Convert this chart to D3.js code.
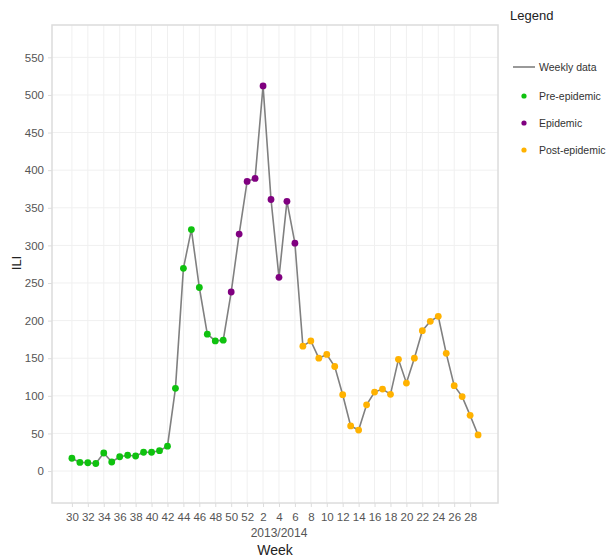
<!DOCTYPE html>
<html>
<head>
<meta charset="utf-8">
<script src="https://cdn.jsdelivr.net/npm/d3@7"></script>
<style>
  body { margin: 0; background: #fff; }
  text { font-family: "Liberation Sans", "Noto Sans", sans-serif; }
</style>
</head>
<body>
<div id="container"></div>
<script>
// chart window size
let cwW = 608;
let cwH = 558;

// weeks 2013/30 .. 2014/29
const weeks = [30,31,32,33,34,35,36,37,38,39,40,41,42,43,44,45,46,47,48,49,50,51,52,
               1,2,3,4,5,6,7,8,9,10,11,12,13,14,15,16,17,18,19,20,21,22,23,24,25,26,27,28,29];
const ili = [17,11.5,11,10,24,12,19,21,20,25,25,27,33,110,269.5,321,244,182,173,174,
             238,315,385,389,512,361,257.5,358.6,303,
             166,173,150,155,139,101.5,60,54.5,88,105,109,102,148.5,117,150,186.6,199,205.7,156.5,113.5,99,74,48];
// 0 = pre-epidemic, 1 = epidemic, 2 = post-epidemic
const phase = [0,0,0,0,0,0,0,0,0,0,0,0,0,0,0,0,0,0,0,0,
               1,1,1,1,1,1,1,1,1,
               2,2,2,2,2,2,2,2,2,2,2,2,2,2,2,2,2,2,2,2,2,2,2];
const phaseNames = ["Pre-epidemic","Epidemic","Post-epidemic"];
const phaseColors = ["#0fc20f","#800080","#ffb200"];
const yTicks = [0,50,100,150,200,250,300,350,400,450,500,550];

let data = weeks.map((w,i) => ({i: i, week: w, v: ili[i], p: phase[i]}));

let svg = d3.select("#container").append("svg")
            .attr("width", cwW)
            .attr("height", cwH);

const panel = {left: 52, top: 25, right: 498, bottom: 503};

let x = d3.scaleLinear().domain([-2.5, 53.5]).range([panel.left, panel.right]);
let y = d3.scaleLinear().domain([-42.5, 593]).range([panel.bottom, panel.top]);

// tick indices every 2 weeks (30..52, 2..28)
let xTickIdx = data.filter(d => d.week % 2 === 0 && d.i <= 50).map(d => d.i);

/**************************
* grid
**************************/
let grid = svg.append("g");
grid.selectAll("line.v")
    .data(xTickIdx)
    .enter().append("line")
    .attr("x1", d => x(d)).attr("x2", d => x(d))
    .attr("y1", panel.top).attr("y2", panel.bottom)
    .attr("stroke", "#f0f0f0");
grid.selectAll("line.h")
    .data(yTicks)
    .enter().append("line")
    .attr("x1", panel.left).attr("x2", panel.right)
    .attr("y1", d => y(d)).attr("y2", d => y(d))
    .attr("stroke", "#f0f0f0");

svg.append("rect")
   .attr("x", panel.left).attr("y", panel.top)
   .attr("width", panel.right - panel.left)
   .attr("height", panel.bottom - panel.top)
   .attr("fill", "none")
   .attr("stroke", "#dcdcdc")
   .attr("stroke-width", 1.5);

/**************************
* axes
**************************/
let yAxis = svg.append("g")
   .attr("transform", "translate(" + panel.left + ",0)")
   .call(d3.axisLeft(y).tickValues(yTicks).tickSize(4).tickPadding(4));
let xAxis = svg.append("g")
   .attr("transform", "translate(0," + panel.bottom + ")")
   .call(d3.axisBottom(x).tickValues(xTickIdx).tickFormat(d => weeks[d]).tickSize(4).tickPadding(6));
[xAxis, yAxis].forEach(a => {
  a.select(".domain").remove();
  a.selectAll(".tick line").attr("stroke", "#dcdcdc");
  a.selectAll(".tick text")
   .attr("fill", "#555")
   .style("font-size", "11.5px")
   .style("font-family", "Liberation Sans");
});

svg.append("text")
   .attr("x", 279).attr("y", 537)
   .attr("text-anchor", "middle")
   .attr("fill", "#555")
   .style("font-size", "12px")
   .text("2013/2014");
svg.append("text")
   .attr("x", 275).attr("y", 555)
   .attr("text-anchor", "middle")
   .attr("fill", "#222")
   .style("font-size", "14px")
   .text("Week");
svg.append("text")
   .attr("transform", "translate(21,263) rotate(-90)")
   .attr("text-anchor", "middle")
   .attr("fill", "#222")
   .style("font-size", "13px")
   .text("ILI");

/**************************
* line + points
**************************/
svg.append("path")
   .datum(data)
   .attr("d", d3.line().x(d => x(d.i)).y(d => y(d.v)))
   .attr("fill", "none")
   .attr("stroke", "#808080")
   .attr("stroke-width", 1.6);

svg.append("g").selectAll("circle")
   .data(data)
   .enter().append("circle")
   .attr("cx", d => x(d.i))
   .attr("cy", d => y(d.v))
   .attr("r", 3.4)
   .attr("fill", d => phaseColors[d.p]);

/**************************
* legend
**************************/
let lg = svg.append("g");
lg.append("text")
  .attr("x", 510).attr("y", 20)
  .attr("fill", "#222")
  .style("font-size", "13px")
  .text("Legend");
lg.append("line")
  .attr("x1", 513).attr("x2", 535)
  .attr("y1", 67).attr("y2", 67)
  .attr("stroke", "#808080").attr("stroke-width", 1.6);
lg.append("text")
  .attr("x", 539).attr("y", 71)
  .attr("fill", "#333")
  .style("font-size", "10.5px")
  .text("Weekly data");
lg.selectAll("circle.k")
  .data(phaseNames)
  .enter().append("circle")
  .attr("cx", 524)
  .attr("cy", (d,i) => 96 + i*27)
  .attr("r", 2.6)
  .attr("fill", (d,i) => phaseColors[i]);
lg.selectAll("text.k")
  .data(phaseNames)
  .enter().append("text")
  .attr("x", 539)
  .attr("y", (d,i) => 100 + i*27)
  .attr("fill", "#333")
  .style("font-size", "10.5px")
  .text(d => d);
</script>
</body>
</html>
